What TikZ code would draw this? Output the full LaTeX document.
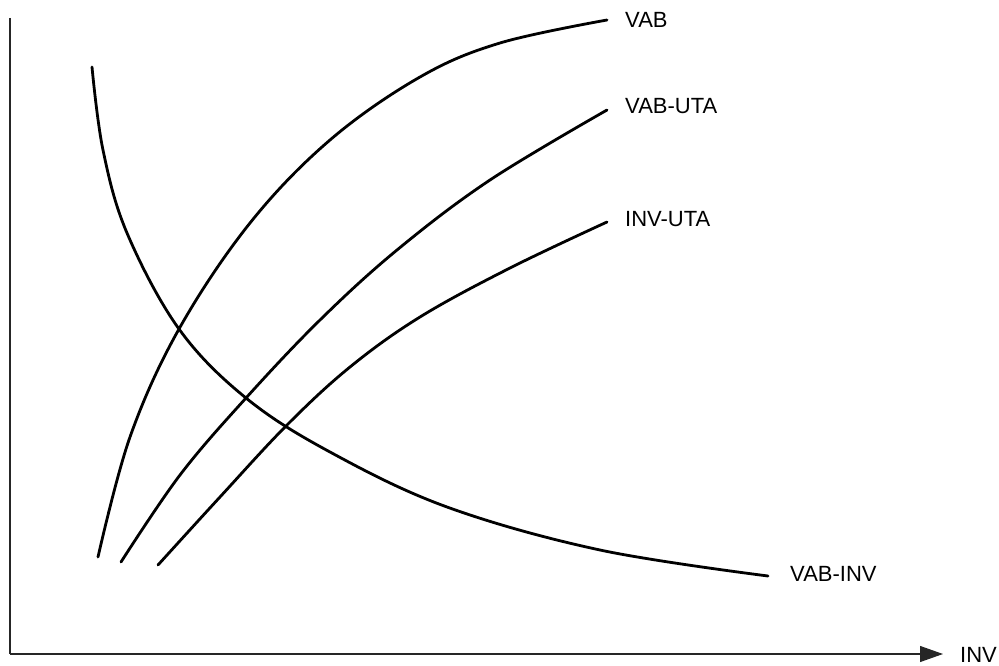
\documentclass[tikz,border=0pt]{standalone}
\usepackage{fontspec}
\setmainfont{Liberation Sans}
\usetikzlibrary{arrows.meta}
\tikzset{
  curve/.style={line width=2.8pt, line cap=round, line join=round, smooth, tension=0.6},
  axisline/.style={line width=1.1pt, black!85},
  lbl/.style={anchor=west, inner sep=0pt, font=\fontsize{22}{24}\selectfont}
}
\begin{document}
\begin{tikzpicture}[x=1pt,y=-1pt]
\useasboundingbox (0,0) rectangle (999,666);
% axes
\coordinate (origin) at (10,654);
\coordinate (ytop) at (10,18);
\coordinate (xend) at (943,654);
\draw[axisline] (ytop) -- (origin);
\draw[axisline, -{Triangle[length=23pt,width=16pt]}] (origin) -- (xend);
\node[lbl] (inv) at (960,655) {INV};
% end points
\coordinate (vabEnd) at (607,20);
\coordinate (vabutaEnd) at (607,110);
\coordinate (invutaEnd) at (607,222);
\coordinate (vabinvEnd) at (768,576);
% labels
\node[lbl] (vab) at (625,20) {VAB};
\node[lbl] (vabuta) at (625,106) {VAB-UTA};
\node[lbl] (invuta) at (625,219) {INV-UTA};
\node[lbl] (vabinv) at (790,574) {VAB-INV};
% curves
\draw[curve] plot coordinates {(98,557) (130,437) (179,329) (250,223) (330,140) (420,77) (500,43) (607,20)};
\draw[curve] plot coordinates {(121,562) (180,475) (246,398) (320,320) (397,250) (490,180) (607,110)};
\draw[curve] plot coordinates {(158,565) (220,497) (287,425) (350,367) (420,317) (510,268) (607,222)};
\draw[curve] plot coordinates {(92,67) (103,150) (127,233) (179,329) (246,398) (330,452) (447,507) (600,550) (768,576)};
\end{tikzpicture}
\end{document}
